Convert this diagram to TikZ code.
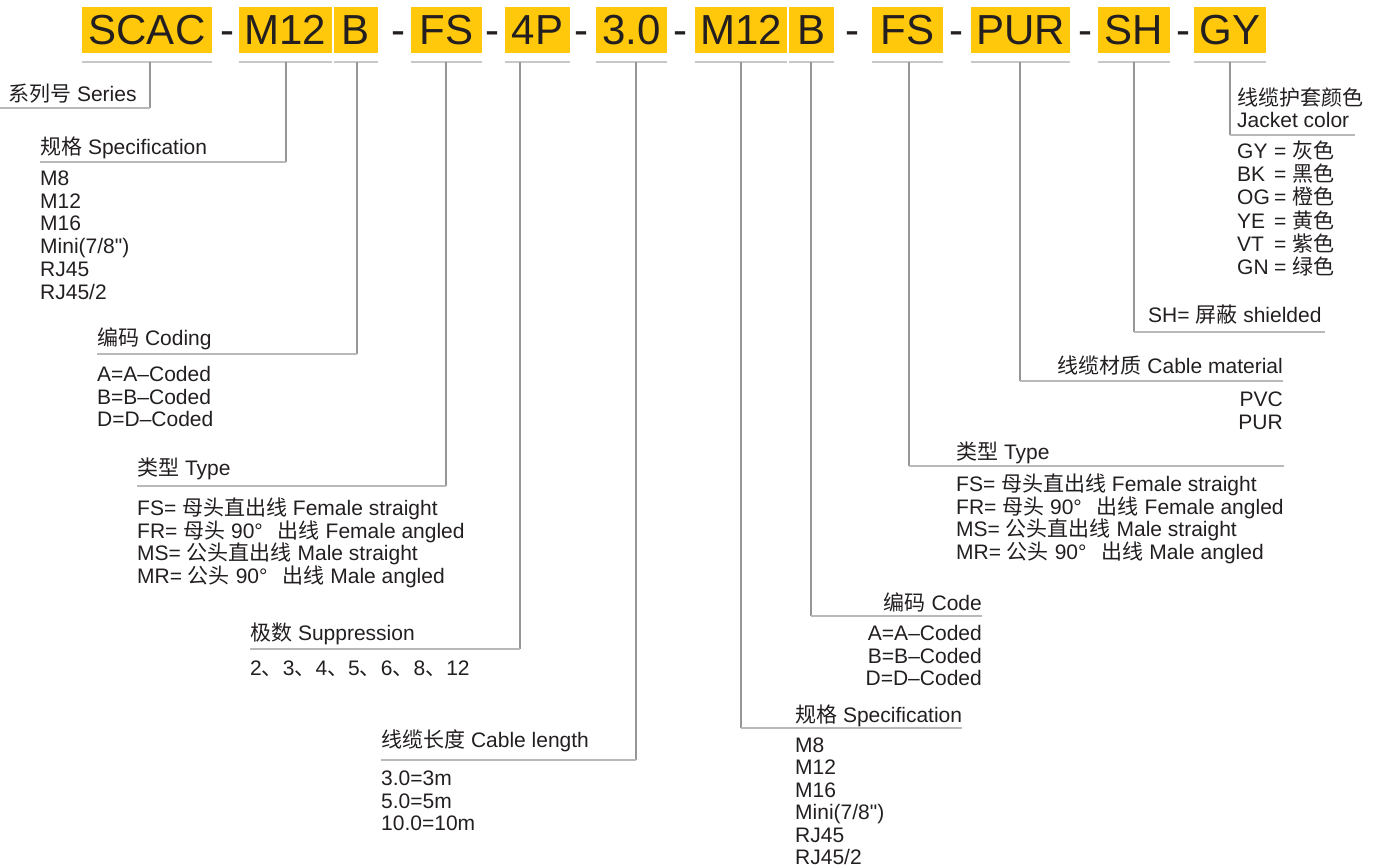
\documentclass[tikz,border=0pt]{standalone}
\usepackage{fontspec}
\setmainfont{Liberation Sans}
\newfontfamily\rawfont{Liberation Sans}[Ligatures=ResetAll]
\newfontfamily\cjkfont{Noto Sans CJK SC}
\newcommand\zh[1]{{\cjkfont #1}}
\newcommand\jc[2]{\makebox[37pt][l]{#1}= \zh{#2}}
\newcommand\qq{{\rawfont"}}
\definecolor{codeyellow}{RGB}{255,200,10}
\definecolor{ink}{RGB}{35,31,32}
\definecolor{ulgray}{RGB}{200,200,200}
\definecolor{vgray}{RGB}{150,150,150}
\definecolor{hgray}{RGB}{185,185,185}
\begin{document}
\begin{tikzpicture}[x=1pt,y=-1pt,
 code/.style={fill=codeyellow,text=ink,font=\fontsize{42}{42}\selectfont,inner sep=0pt,minimum height=46pt},
 sep/.style={text=ink,font=\fontsize{42}{42}\selectfont,inner sep=0pt,anchor=base},
 lbl/.style={text=ink,font=\fontsize{21}{23}\selectfont,inner sep=0pt,anchor=base west},
 lblr/.style={lbl,anchor=base east},
 uline/.style={draw=ulgray,line width=2.2pt},
 conn/.style={draw=vgray,line width=1.1pt},
 hline/.style={draw=hgray,line width=2pt},
]
\useasboundingbox (0,0) rectangle (1380,867);

% ---- code boxes
\node[code,minimum width=130pt] (c1) at (147,30) {SCAC};
\node[code,minimum width=93pt] (c2) at (285.5,30) {M12};
\node[code,minimum width=44pt] (c3) at (356,30) {B};
\node[code,minimum width=71pt] (c4) at (446.5,30) {FS};
\node[code,minimum width=65pt] (c5) at (537.5,30) {4P};
\node[code,minimum width=71pt] (c6) at (631.5,30) {3.0};
\node[code,minimum width=92pt] (c7) at (741,30) {M12};
\node[code,minimum width=45pt] (c8) at (811.5,30) {B};
\node[code,minimum width=71pt] (c9) at (907.5,30) {FS};
\node[code,minimum width=99pt] (c10) at (1020.5,30) {PUR};
\node[code,minimum width=72pt] (c11) at (1134,30) {SH};
\node[code,minimum width=72pt] (c12) at (1230,30) {GY};

% ---- separators
\foreach \x [count=\i] in {227,398,492,581,680,852,956,1085,1183}
  \node[sep] (d\i) at (\x,45) {-};

% ---- underlines
\foreach \i in {1,...,12}
  \draw[uline] ([yshift=-9pt]c\i.south west) -- ([yshift=-9pt]c\i.south east);

% ---- connectors: top point, knee, end of horizontal line
\foreach \i/\x/\y/\e in {1/150/108/0, 2/286/162/40, 3/357/354/97, 4/446/486/137,
  5/520/649/250, 6/636/760/381, 7/741/728/962, 8/811/616/982, 9/909/466/1284,
  10/1020/381/1283, 11/1134/332/1325, 12/1230/135/1355}{
  \coordinate (t\i) at (\x,62);
  \coordinate (k\i) at (\x,\y);
  \coordinate (e\i) at (\e,\y);
  \draw[conn] (t\i) -- (k\i);
  \draw[hline] (k\i) -- (e\i);
}

% ---- left labels
\node[lbl] (h1) at (8,101) {\zh{系列号} Series};

\node[lbl] (h2) at (40,154) {\zh{规格} Specification};
\foreach \t [count=\i] in {M8,M12,M16,{Mini(7/8\qq)},RJ45,{RJ45/2}}
  \node[lbl] (s2\i) at (40,{185.5+(\i-1)*22.7}) {\t};

\node[lbl] (h3) at (97,345) {\zh{编码} Coding};
\foreach \t [count=\i] in {A=A–Coded,B=B–Coded,D=D–Coded}
  \node[lbl] (s3\i) at (97,{381.5+(\i-1)*22.6}) {\t};

\node[lbl] (h4) at (137,475) {\zh{类型} Type};
\foreach \t [count=\i] in {{FS= \zh{母头直出线} Female straight},
  {FR= \zh{母头} 90°\hspace{15pt}\zh{出线} Female angled},
  {MS= \zh{公头直出线} Male straight},
  {MR= \zh{公头} 90°\hspace{15pt}\zh{出线} Male angled}}
  \node[lbl] (s4\i) at (137,{515.5+(\i-1)*22.7}) {\t};

\node[lbl] (h5) at (250,640) {\zh{极数} Suppression};
\node[lbl] (s51) at (250,675.5) {2\zh{、}3\zh{、}4\zh{、}5\zh{、}6\zh{、}8\zh{、}12};

\node[lbl] (h6) at (381,747) {\zh{线缆长度} Cable length};
\foreach \t [count=\i] in {3.0=3m,5.0=5m,10.0=10m}
  \node[lbl] (s6\i) at (381,{785.5+(\i-1)*22.6}) {\t};

% ---- right labels
\node[lbl] (h7) at (795,722) {\zh{规格} Specification};
\foreach \t [count=\i] in {M8,M12,M16,{Mini(7/8\qq)},RJ45,{RJ45/2}}
  \node[lbl] (s7\i) at (795,{752.5+(\i-1)*22.4}) {\t};

\node[lblr] (h8) at (982,610) {\zh{编码} Code};
\foreach \t [count=\i] in {A=A–Coded,B=B–Coded,D=D–Coded}
  \node[lblr] (s8\i) at (982,{640.5+(\i-1)*22.5}) {\t};

\node[lbl] (h9) at (956,459) {\zh{类型} Type};
\foreach \t [count=\i] in {{FS= \zh{母头直出线} Female straight},
  {FR= \zh{母头} 90°\hspace{15pt}\zh{出线} Female angled},
  {MS= \zh{公头直出线} Male straight},
  {MR= \zh{公头} 90°\hspace{15pt}\zh{出线} Male angled}}
  \node[lbl] (s9\i) at (956,{491.5+(\i-1)*22.7}) {\t};

\node[lblr] (h10) at (1283,373) {\zh{线缆材质} Cable material};
\node[lblr] (s101) at (1283,406.5) {PVC};
\node[lblr] (s102) at (1283,429.5) {PUR};

\node[lbl] (h11) at (1148,322) {SH= \zh{屏蔽} shielded};

\node[lbl] (h12a) at (1237,105) {\zh{线缆护套颜色}};
\node[lbl] (h12b) at (1237,127) {Jacket color};
\foreach \a/\b [count=\i] in {GY/灰色,BK/黑色,OG/橙色,YE/黄色,VT/紫色,GN/绿色}
  \node[lbl] (s12\i) at (1237,{158.5+(\i-1)*23.2}) {\jc{\a}{\b}};
\end{tikzpicture}
\end{document}
